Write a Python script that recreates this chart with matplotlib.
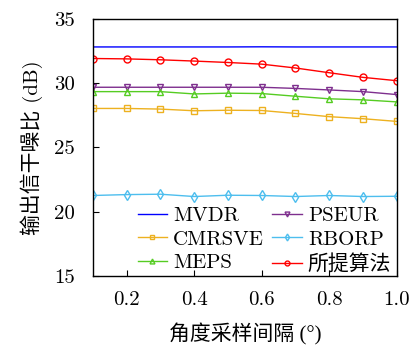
import numpy as np
import matplotlib.pyplot as plt

plt.rcParams['font.family'] = ['cmr10', 'Noto Sans CJK SC', 'DejaVu Sans']
plt.rcParams['axes.formatter.use_mathtext'] = True
plt.rcParams['font.size'] = 15

# angle sampling interval (deg)
x = [0.1, 0.2, 0.3, 0.4, 0.5, 0.6, 0.7, 0.8, 0.9, 1.0]

mvdr = [32.83, 32.83, 32.83, 32.83, 32.83, 32.84, 32.83, 32.83, 32.83, 32.83]
pseur = [29.69, 29.69, 29.69, 29.69, 29.69, 29.69, 29.60, 29.48, 29.35, 29.12]
cmrsve = [28.04, 28.04, 27.99, 27.86, 27.90, 27.88, 27.65, 27.40, 27.24, 27.03]
rborp = [21.26, 21.33, 21.36, 21.18, 21.28, 21.26, 21.18, 21.26, 21.18, 21.20]
meps = [29.35, 29.35, 29.35, 29.17, 29.23, 29.20, 28.99, 28.79, 28.71, 28.55]
proposed = [31.93, 31.90, 31.83, 31.73, 31.62, 31.49, 31.19, 30.82, 30.46, 30.20]

fig = plt.figure(figsize=(4.16, 3.47), dpi=100)
ax = fig.add_axes([0.223, 0.205, 0.731, 0.740])

ax.plot(x, mvdr, color='#0000ff', lw=1.0, label='MVDR')
ax.plot(x, pseur, color='#7E2F8E', lw=1.0, marker='v', ms=5, mfc='none', mew=1.0, label='PSEUR')
ax.plot(x, cmrsve, color='#EDB120', lw=1.0, marker='s', ms=4, mfc='none', mew=1.0, label='CMRSVE')
ax.plot(x, rborp, color='#4DBEEE', lw=1.0, marker='d', ms=5, mfc='none', mew=1.0, label='RBORP')
ax.plot(x, meps, color='#55CC22', lw=1.0, marker='^', ms=5, mfc='none', mew=1.0, label='MEPS')
ax.plot(x, proposed, color='#FF0000', lw=1.0, marker='o', ms=5, mfc='none', mew=1.0, label='所提算法')

ax.set_xlim(0.1, 1.0)
ax.set_ylim(15, 35)
ax.set_xticks([0.2, 0.4, 0.6, 0.8, 1.0])
ax.set_xticklabels(['0.2', '0.4', '0.6', '0.8', '1.0'])
ax.set_yticks([15, 20, 25, 30, 35])
ax.set_yticklabels(['15', '20', '25', '30', '35'])
ax.tick_params(direction='in', length=4, width=0.8, labelsize=15)
ax.tick_params(axis='x', pad=11)
ax.tick_params(axis='y', pad=13)
for s in ax.spines.values():
    s.set_linewidth(1.0)

ax.set_xlabel('角度采样间隔 (°)', fontsize=15, labelpad=10,
              family=['Liberation Serif', 'Noto Sans CJK SC'])
ax.set_ylabel('输出信干噪比 (dB)', fontsize=15, labelpad=8)

h, l = ax.get_legend_handles_labels()
order = [0, 2, 4, 1, 3, 5]
ax.legend([h[i] for i in order], [l[i] for i in order], ncol=2, frameon=False,
          loc='lower center', bbox_to_anchor=(0.565, -0.065), handlelength=1.4,
          handletextpad=0.3, columnspacing=0.4, labelspacing=0.25,
          fontsize=15, markerscale=0.7)

fig.savefig('out.png', dpi=100)
